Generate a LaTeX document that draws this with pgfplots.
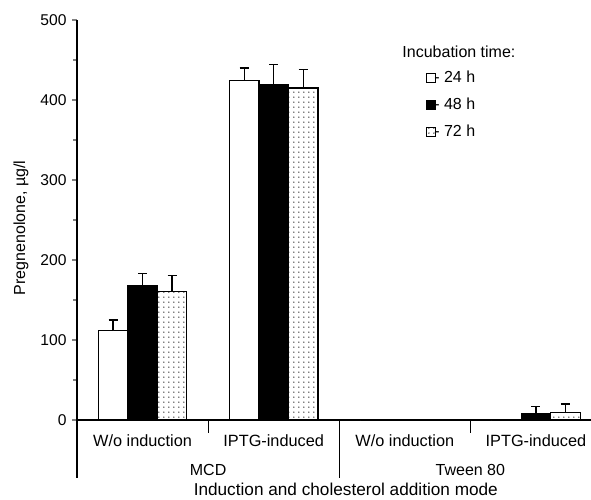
\documentclass[border=0pt]{standalone}
\usepackage{pgfplots}
\pgfplotsset{compat=1.18}
\usepackage{fontspec}
\setmainfont{Liberation Sans}
\usetikzlibrary{patterns.meta}

\tikzdeclarepattern{
  name=sparsedots,
  type=uncolored,
  bottom left={(0pt,0pt)},
  top right={(4.5pt,4.5pt)},
  tile size={(4.5pt,4.5pt)},
  code={\fill (1pt,1pt) circle (0.75pt);}
}

\begin{document}
\begin{tikzpicture}
\fontsize{16}{19}\selectfont
\useasboundingbox (0,0) rectangle (591pt,499pt);
\begin{axis}[
    at={(77pt,79pt)}, anchor=south west,
    scale only axis,
    width=514pt, height=400pt,
    xmin=-0.5, xmax=3.42,
    ymin=0, ymax=500,
    ytick={0,100,200,300,400,500},
    minor ytick={50,150,250,350,450},
    xtick={0,1,2,3},
    xticklabels={W/o induction, IPTG-induced, W/o induction, IPTG-induced},
    axis lines=left,
    axis line style={-, line width=1.1pt},
    tick align=outside,
    major tick length=5pt,
    minor tick length=4pt,
    ytick style={line width=1.1pt},
    major x tick style={draw=none},
    xticklabel style={font=\fontsize{16.3}{19}\selectfont, anchor=center, yshift=-16pt},
    yticklabel style={font=\fontsize{15.6}{19}\selectfont},
    /pgf/number format/assume math mode=true,
    ybar,
    bar width=0.225,
    clip=false,
    error bars/y dir=plus,
    error bars/y explicit,
    error bars/error bar style={line width=1.2pt},
    error bars/error mark options={rotate=90, mark size=4.5pt, line width=1.2pt},
    legend style={draw=none, fill=none, at={(axis cs:2.14,442)}, anchor=north west,
        font=\fontsize{16}{19}\selectfont, row sep=9pt,
        legend cell align=left},
    legend image code/.code={\draw[#1, line width=0.9pt] (0pt,-4.5pt) rectangle (9pt,4.5pt);},
]
\addplot[bar shift=-0.225, draw=black, line width=1.2pt, fill=white]
  coordinates {(0,112) +- (0,13) (1,424) +- (0,16) (2,0) (3,0)};
\addlegendentry{\hspace{-4pt}- 24 h}
\addplot[bar shift=0, draw=black, line width=1.2pt, fill=black]
  coordinates {(0,168) +- (0,15) (1,419) +- (0,25) (2,0) (3,8) +- (0,9)};
\addlegendentry{\hspace{-4pt}- 48 h}
\addplot[bar shift=0.225, draw=black, line width=1.2pt, pattern=sparsedots]
  coordinates {(0,161) +- (0,20) (1,415) +- (0,23) (2,0) (3,9) +- (0,11)};
\addlegendentry{\hspace{-4pt}- 72 h}

\draw[line width=1.1pt] (axis cs:0.5,0) -- ++(0pt,-13pt);
\draw[line width=1.1pt] (axis cs:2.5,0) -- ++(0pt,-13pt);
\draw[line width=1.1pt] (axis cs:-0.5,0) -- ++(0pt,-58pt);
\draw[line width=1.1pt] (axis cs:1.5,0) -- ++(0pt,-58pt);
\node at (axis cs:0.5,0) [yshift=-50pt] {MCD};
\node at (axis cs:2.5,0) [yshift=-50pt] {Tween 80};
\node[font=\fontsize{17.2}{20}\selectfont] at (axis cs:1.55,0) [yshift=-69pt] {Induction and cholesterol addition mode};
\node[rotate=90] at ([xshift=-56pt]axis cs:-0.5,240) {Pregnenolone, µg/l};
\node[anchor=west] at (axis cs:1.94,460) {Incubation time:};
\end{axis}
\end{tikzpicture}
\end{document}
